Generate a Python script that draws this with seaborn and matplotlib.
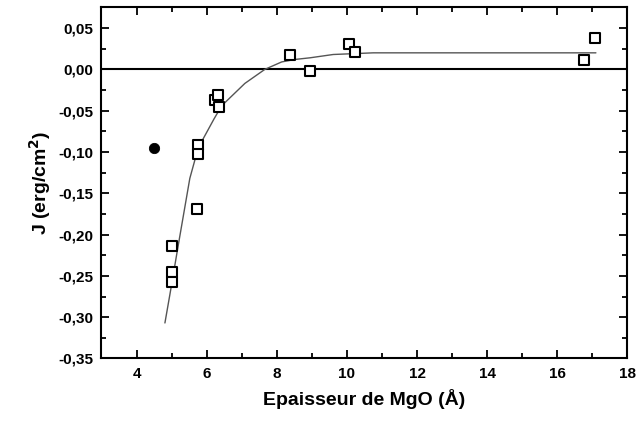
import numpy as np
import pandas as pd
import matplotlib
matplotlib.use("Agg")
import matplotlib.pyplot as plt
from matplotlib.ticker import MultipleLocator, FuncFormatter
import seaborn as sns

# Measured data (open squares)
sq_x = [5.01, 5.01, 5.01, 5.73, 5.76, 5.76, 6.24, 6.33, 6.35, 8.37, 8.96, 10.07, 10.23, 16.76, 17.07]
sq_y = [-0.2135, -0.245, -0.257, -0.169, -0.0914, -0.103, -0.0374, -0.0306, -0.0454, 0.0169, -0.0024, 0.0302, 0.021, 0.0109, 0.038]

# Filled circle
pt_x = [4.50]
pt_y = [-0.0946]

# Fitted curve
fit_x = [4.81, 4.95, 5.19, 5.52, 5.76, 6.21, 6.43, 7.09, 7.66, 8.14, 8.52, 8.95, 9.61, 10.75, 12.5, 14.1, 17.1]
fit_y = [-0.307, -0.273, -0.213, -0.132, -0.095, -0.060, -0.044, -0.017, 0.0, 0.009, 0.012, 0.014, 0.018, 0.020, 0.020, 0.020, 0.020]

x_ticks = [4, 6, 8, 10, 12, 14, 16, 18]
y_ticks = [-0.35, -0.30, -0.25, -0.20, -0.15, -0.10, -0.05, 0.00, 0.05]

sns.set_theme(style="ticks")
plt.rcParams['font.family'] = ['Liberation Sans', 'DejaVu Sans']
plt.rcParams['font.weight'] = 'bold'
plt.rcParams['text.color'] = 'black'
plt.rcParams['axes.labelcolor'] = 'black'
plt.rcParams['xtick.color'] = 'black'
plt.rcParams['ytick.color'] = 'black'

fig = plt.figure(figsize=(6.38, 4.23), dpi=100)
ax = fig.add_axes([0.159, 0.1525, 0.8245, 0.830])

ax.axhline(0, color='black', lw=1.5, zorder=1)

sns.lineplot(x=fit_x, y=fit_y, ax=ax, color='#555555', lw=1.0, sort=False, estimator=None, zorder=2)
sns.scatterplot(x=sq_x, y=sq_y, ax=ax, marker='s', s=60, facecolor='white', edgecolor='black', linewidth=1.5, zorder=3)
sns.scatterplot(x=pt_x, y=pt_y, ax=ax, marker='o', s=55, color='black', edgecolor='black', zorder=3)

ax.set_xlim(3, 18)
ax.set_ylim(-0.35, 0.075)
ax.set_xticks(x_ticks)
ax.set_yticks(y_ticks)
ax.xaxis.set_minor_locator(MultipleLocator(1))
ax.yaxis.set_minor_locator(MultipleLocator(0.025))
ax.yaxis.set_major_formatter(FuncFormatter(lambda v, p: ("%.2f" % v).replace('.', ',').replace('-0,00', '0,00')))
ax.xaxis.set_major_formatter(FuncFormatter(lambda v, p: "%d" % v))

ax.tick_params(which='both', direction='in', top=True, right=True, width=1.3, colors='black', labelcolor='black')
ax.tick_params(which='major', length=6, labelsize=11, pad=6)
ax.tick_params(which='minor', length=3.5)
for lab in ax.get_xticklabels() + ax.get_yticklabels():
    lab.set_fontweight('bold')
    lab.set_color('black')

for s in ax.spines.values():
    s.set_linewidth(1.5)
    s.set_color('black')

ax.set_xlabel("Epaisseur de MgO (Å)", fontsize=14, fontweight='bold', labelpad=6, color='black')
ax.set_ylabel("J (erg/cm$^\\mathbf{2}$)", fontsize=14, fontweight='bold', labelpad=4, color='black')

fig.savefig("out.png", dpi=100)
